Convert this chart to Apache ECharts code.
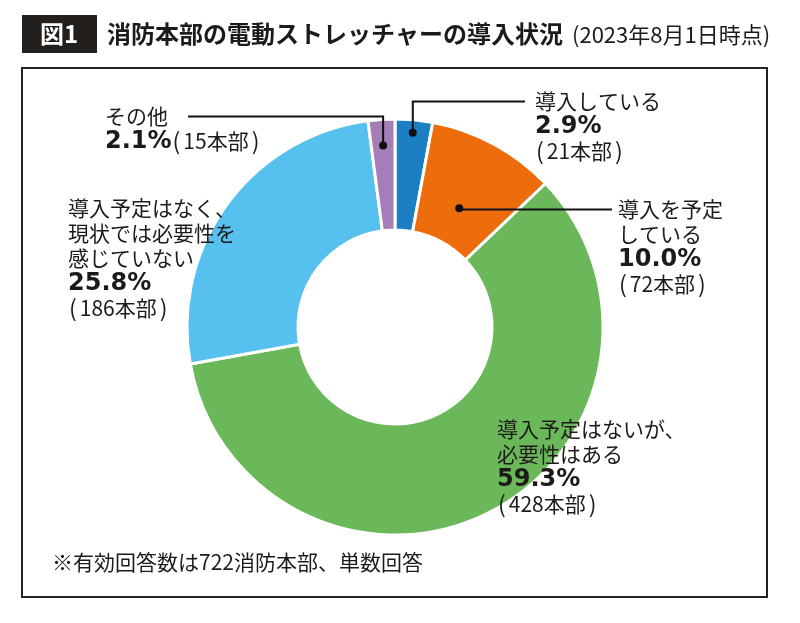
<!DOCTYPE html>
<html><head><meta charset="utf-8">
<script src="https://cdn.jsdelivr.net/npm/echarts@6/dist/echarts.min.js"></script>
<style>html,body{margin:0;padding:0;background:#fff}#c{width:800px;height:623px}</style>
</head><body><div id="c"></div>
<script>
// ---- data ----
const categories = ['導入している', '導入を予定している', '導入予定はないが、必要性はある', '導入予定はなく、現状では必要性を感じていない', 'その他'];
const counts = [21, 72, 428, 186, 15];
const percents = ['2.9%', '10.0%', '59.3%', '25.8%', '2.1%'];
const labelTextLines = [['導入している'], ['導入を予定', 'している'], ['導入予定はないが、', '必要性はある'], ['導入予定はなく、', '現状では必要性を', '感じていない'], ['その他']];
const totalNote = '※有効回答数は722消防本部、単数回答';
const titleText = '消防本部の電動ストレッチャーの導入状況';
const subtitleText = '(2023年8月1日時点)';

// ---- styles ----
const colors = ['#1c7ec3', '#ed6d0c', '#6bb85a', '#56c0ee', '#a57db7'];
const labelPos = [[535, 89], [618, 197], [497, 417], [68, 196], [105, 104]];
const leaderR = [195, 135, null, null, 182];
const leaderEndX = [525, 612, null, null, 188];
const inlinePercent = [false, false, false, false, true];
const TXT = '#1e1a18';
const CJK = '"Noto Sans CJK JP", sans-serif';

function fmt(i) {
  const lines = labelTextLines[i].map(s => '{n|' + s + '}');
  const cnt = '{lp|(}{n|' + counts[i] + '本部}{rp|)}';
  if (inlinePercent[i]) {
    lines.push('{p|' + percents[i] + '}' + cnt);
  } else {
    lines.push('{p|' + percents[i] + '}');
    lines.push(cnt);
  }
  return lines.join('\n');
}

const chart = echarts.init(document.getElementById('c'), null, {renderer: 'canvas'});
const seriesData = categories.map((c, i) => ({
  name: c, value: counts[i],
  itemStyle: {color: colors[i]},
  label: {formatter: fmt(i)}
}));

chart.setOption({
  animation: false,
  series: [{
    type: 'pie',
    center: [395, 327],
    radius: [97, 208],
    startAngle: 90,
    clockwise: true,
    avoidLabelOverlap: false,
    emphasis: {disabled: true},
    itemStyle: {borderColor: '#fff', borderWidth: 3},
    label: {
      show: true,
      position: 'outside',
      color: TXT,
      rich: {
        n: {fontFamily: CJK, fontSize: 21, lineHeight: 25, color: TXT},
        lp: {fontFamily: CJK, fontSize: 23, lineHeight: 25, color: TXT, padding: [0, 3, 0, 1]},
        rp: {fontFamily: CJK, fontSize: 23, lineHeight: 25, color: TXT, padding: [0, 0, 0, 3]},
        p: {fontFamily: '"DejaVu Sans", sans-serif', fontWeight: 'bold', fontSize: 24, lineHeight: 25, color: TXT}
      }
    },
    labelLine: {show: false},
    labelLayout: function (params) {
      const p = labelPos[params.dataIndex];
      return {x: p[0], y: p[1], align: 'left', verticalAlign: 'top'};
    },
    data: seriesData
  }]
});

// leader lines from the pie's own layout
const graphics = [
  {type: 'rect', shape: {x: 22, y: 68, width: 745, height: 529}, style: {fill: 'none', stroke: '#222', lineWidth: 2}, z: 1},
  {type: 'rect', shape: {x: 22, y: 15, width: 75, height: 38}, style: {fill: '#231f1c'}},
  {type: 'text', x: 59, y: 34, style: {text: '図1', fill: '#fff', font: 'bold 24px ' + CJK, align: 'center', verticalAlign: 'middle'}},
  {type: 'text', x: 107, y: 34, style: {text: titleText, fill: TXT, font: 'bold 24px ' + CJK, align: 'left', verticalAlign: 'middle'}},
  {type: 'text', x: 572, y: 35, style: {text: subtitleText, fill: TXT, font: '22px ' + CJK, align: 'left', verticalAlign: 'middle'}},
  {type: 'text', x: 52, y: 562, style: {text: totalNote, fill: TXT, font: '21px ' + CJK, align: 'left', verticalAlign: 'middle'}}
];
try {
  const data = chart.getModel().getSeriesByIndex(0).getData();
  for (let i = 0; i < counts.length; i++) {
    if (leaderR[i] == null) continue;
    const L = data.getItemLayout(i);
    const mid = (L.startAngle + L.endAngle) / 2;
    const dx = L.cx + leaderR[i] * Math.cos(mid);
    const dy = L.cy + leaderR[i] * Math.sin(mid);
    const ly = labelPos[i][1] + 12.5;
    graphics.push({type: 'polyline', z: 10, shape: {points: [[dx, dy], [dx, ly], [leaderEndX[i], ly]]}, style: {stroke: '#111', lineWidth: 2, fill: 'none'}});
    graphics.push({type: 'circle', z: 11, shape: {cx: dx, cy: dy, r: 4}, style: {fill: '#111'}});
  }
} catch (e) { console.log(e); }
chart.setOption({graphic: graphics});
</script></body></html>
